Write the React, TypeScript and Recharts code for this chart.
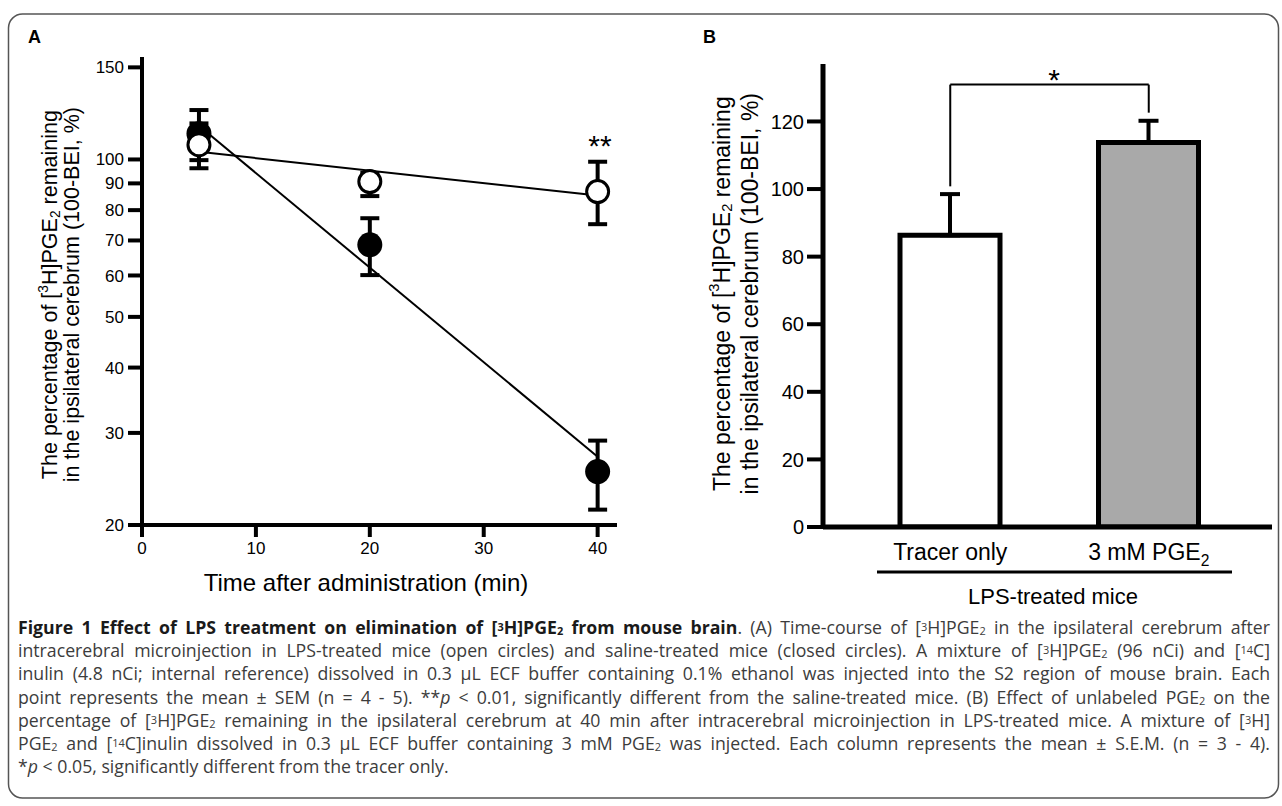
import React from 'react'
import {
  ComposedChart,
  Scatter,
  XAxis,
  YAxis,
  ErrorBar,
  BarChart,
  Bar,
  Cell,
  ReferenceLine,
} from 'recharts'

// panel A: time course (log y), error = [minus, plus]
const times = [5, 20, 40]
const salineMean = [112, 68.7, 25.3]
const salineErr = [
  [12.3, 12.3],
  [8.6, 8.5],
  [3.9, 3.7],
]
const lpsMean = [106.7, 90.7, 86.8]
const lpsErr = [
  [10.5, 10.5],
  [5.6, 3.5],
  [11.6, 12.2],
]

const fitTimes = [5, 40]
const salineFit = [116, 27]
const lpsFit = [103.4, 85.3]

const xTicksA = [0, 10, 20, 30, 40]
const yTicksA = [20, 30, 40, 50, 60, 70, 80, 90, 100, 150]

// panel B: columns
const groups = ['Tracer only', '3 mM PGE2']
const groupMean = [86.3, 113.8]
const groupSem = [12.2, 6.4]
const groupFill = ['#ffffff', '#a9a9a9']
const yTicksB = [0, 20, 40, 60, 80, 100, 120]
const bracketLow = [100.8, 122.6]
const bracketTop = 130.9

const FONT = '"Liberation Sans", Arial, Helvetica, sans-serif'

const salineData = times.map((t, i) => ({ t, v: salineMean[i], e: salineErr[i] }))
const lpsData = times.map((t, i) => ({ t, v: lpsMean[i], e: lpsErr[i] }))
const salineFitData = fitTimes.map((t, i) => ({ t, v: salineFit[i] }))
const lpsFitData = fitTimes.map((t, i) => ({ t, v: lpsFit[i] }))
const barData = groups.map((g, i) => ({ g, v: groupMean[i], e: [0, groupSem[i]] }))

const FilledDot = (p: any) => <circle cx={p.cx} cy={p.cy} r={12.5} fill="#000" />
const OpenDot = (p: any) => (
  <circle cx={p.cx} cy={p.cy} r={11} fill="#fff" stroke="#000" strokeWidth={3} />
)
const NoDot = () => <g />

function withSub(label: string, size: number) {
  // "PGE2" -> PGE with subscript 2
  const m = label.match(/^(.*PGE)(\d)$/)
  if (!m) return label
  return (
    <>
      {m[1]}
      <tspan fontSize={size * 0.68} dy={size * 0.25}>
        {m[2]}
      </tspan>
    </>
  )
}

const CatTick = ({ x, y, payload }: any) => (
  <text x={x} y={y} dy="0.71em" textAnchor="middle" fontSize={23} fill="#000" fontFamily={FONT}>
    {withSub(payload.value, 23)}
  </text>
)

function YTitle({ cx, cy, gap, size }: { cx: number; cy: number; gap: number; size: number }) {
  const s = size * 0.64
  return (
    <g fontFamily={FONT} fontSize={size} fill="#000">
      <text
        x={cx}
        y={cy}
        textAnchor="middle"
        dominantBaseline="central"
        transform={`rotate(-90 ${cx} ${cy})`}
      >
        The percentage of [
        <tspan fontSize={s} dy={-size * 0.36}>
          3
        </tspan>
        <tspan dy={size * 0.36}>H]PGE</tspan>
        <tspan fontSize={s} dy={size * 0.22}>
          2
        </tspan>
        <tspan dy={-size * 0.22}>{' remaining'}</tspan>
      </text>
      <text
        x={cx + gap}
        y={cy}
        textAnchor="middle"
        dominantBaseline="central"
        transform={`rotate(-90 ${cx + gap} ${cy})`}
      >
        in the ipsilateral cerebrum (100-BEI, %)
      </text>
    </g>
  )
}

const supStyle: React.CSSProperties = { fontSize: '0.62em', lineHeight: 0, verticalAlign: '0.32em' }
const subStyle: React.CSSProperties = { fontSize: '0.62em', lineHeight: 0, verticalAlign: '-0.12em' }
const Sup = ({ c }: { c: string }) => <span style={supStyle}>{c}</span>
const Sub = ({ c }: { c: string }) => <span style={subStyle}>{c}</span>

const lineStyle: React.CSSProperties = { textAlign: 'justify', textAlignLast: 'justify', whiteSpace: 'nowrap' }

export default function App() {
  return (
    <div
      style={{
        position: 'absolute',
        left: 0,
        top: 0,
        width: 1282,
        height: 806,
        background: '#fff',
        overflow: 'hidden',
      }}
    >
      {/* Panel A */}
      <div style={{ position: 'absolute', left: 0, top: 0 }}>
        <ComposedChart width={640} height={620} margin={{ top: 57, right: 23, left: 0, bottom: 65 }}>
          <XAxis
            dataKey="t"
            type="number"
            domain={[0, 41.7]}
            allowDataOverflow
            ticks={xTicksA}
            interval={0}
            stroke="#000"
            strokeWidth={4}
            axisLine={{ stroke: '#000', strokeWidth: 4 }}
            tickLine={{ stroke: '#000', strokeWidth: 4 }}
            tickSize={12}
            tickMargin={5}
            tick={{ fill: '#000', fontSize: 17, fontFamily: FONT }}
          />
          <YAxis
            dataKey="v"
            type="number"
            scale="log"
            domain={[20, 157]}
            allowDataOverflow
            ticks={yTicksA}
            interval={0}
            width={142}
            stroke="#000"
            strokeWidth={4}
            axisLine={{ stroke: '#000', strokeWidth: 4 }}
            tickLine={{ stroke: '#000', strokeWidth: 4 }}
            tickSize={14}
            tickMargin={4}
            tick={{ fill: '#000', fontSize: 17, fontFamily: FONT }}
          />
          <Scatter
            data={salineFitData}
            shape={NoDot}
            line={{ stroke: '#000', strokeWidth: 2 }}
            isAnimationActive={false}
          />
          <Scatter
            data={lpsFitData}
            shape={NoDot}
            line={{ stroke: '#000', strokeWidth: 2 }}
            isAnimationActive={false}
          />
          <Scatter data={salineData} shape={FilledDot} isAnimationActive={false}>
            <ErrorBar dataKey="e" direction="y" width={9.5} strokeWidth={4} stroke="#000" />
          </Scatter>
          <Scatter data={lpsData} shape={OpenDot} isAnimationActive={false}>
            <ErrorBar dataKey="e" direction="y" width={9.5} strokeWidth={4} stroke="#000" />
          </Scatter>
        </ComposedChart>
      </div>

      {/* Panel B */}
      <div style={{ position: 'absolute', left: 640, top: 0 }}>
        <BarChart width={642} height={620} data={barData} margin={{ top: 64, right: 10, left: 0, bottom: 63 }}>
          <XAxis
            dataKey="g"
            interval={0}
            padding={{ left: 28, right: 24 }}
            stroke="#000"
            strokeWidth={5}
            axisLine={{ stroke: '#000', strokeWidth: 5 }}
            tickLine={false}
            tickSize={12}
            tickMargin={5}
            tick={<CatTick />}
          />
          <YAxis
            type="number"
            domain={[0, 137]}
            allowDataOverflow
            ticks={yTicksB}
            interval={0}
            width={183}
            stroke="#000"
            strokeWidth={5}
            axisLine={{ stroke: '#000', strokeWidth: 5 }}
            tickLine={{ stroke: '#000', strokeWidth: 4 }}
            tickSize={16}
            tickMargin={3}
            tick={{ fill: '#000', fontSize: 20, fontFamily: FONT }}
          />
          <Bar dataKey="v" barSize={100} stroke="#000" strokeWidth={5} isAnimationActive={false}>
            {barData.map((d, i) => (
              <Cell key={d.g} fill={groupFill[i]} />
            ))}
            <ErrorBar dataKey="e" direction="y" width={10} strokeWidth={4} stroke="#000" />
          </Bar>
          <ReferenceLine
            segment={[
              { x: groups[0], y: bracketLow[0] },
              { x: groups[0], y: bracketTop },
            ]}
            stroke="#000"
            strokeWidth={2}
          />
          <ReferenceLine
            segment={[
              { x: groups[0], y: bracketTop },
              { x: groups[1], y: bracketTop },
            ]}
            stroke="#000"
            strokeWidth={2}
          />
          <ReferenceLine
            segment={[
              { x: groups[1], y: bracketLow[1] },
              { x: groups[1], y: bracketTop },
            ]}
            stroke="#000"
            strokeWidth={2}
          />
        </BarChart>
      </div>

      {/* texts and frame */}
      <svg
        width={1282}
        height={806}
        style={{ position: 'absolute', left: 0, top: 0, pointerEvents: 'none' }}
      >
        <rect x={8.5} y={14} width={1270} height={784} rx={14} fill="none" stroke="#555" strokeWidth={1.5} />
        <text x={28} y={43} fontFamily={FONT} fontWeight="bold" fontSize={18} fill="#000">
          A
        </text>
        <text x={703} y={43} fontFamily={FONT} fontWeight="bold" fontSize={18} fill="#000">
          B
        </text>
        <YTitle cx={50.5} cy={294.6} gap={21.5} size={21.5} />
        <YTitle cx={722} cy={293.7} gap={28} size={23} />
        <text x={366} y={591} textAnchor="middle" fontFamily={FONT} fontSize={24} fill="#000">
          Time after administration (min)
        </text>
        <text x={600} y={156} textAnchor="middle" fontFamily={FONT} fontSize={30} fill="#000">
          **
        </text>
        <text x={1054} y={90} textAnchor="middle" fontFamily={FONT} fontSize={30} fill="#000">
          *
        </text>
        <line x1={877} x2={1232} y1={572} y2={572} stroke="#000" strokeWidth={3} />
        <text x={1053} y={604} textAnchor="middle" fontFamily={FONT} fontSize={22} fill="#000">
          LPS-treated mice
        </text>
      </svg>

      {/* caption */}
      <div
        style={{
          position: 'absolute',
          left: 18,
          top: 616,
          width: 1252,
          fontFamily: '"Open Sans", sans-serif',
          fontSize: 17.7,
          lineHeight: '23.2px',
          color: '#3c3c3c',
        }}
      >
        <div style={lineStyle}>
          <b style={{ color: '#1a1a1a' }}>
            Figure 1 Effect of LPS treatment on elimination of [<Sup c="3" />H]PGE<Sub c="2" /> from mouse brain
          </b>
          . (A) Time-course of [<Sup c="3" />H]PGE<Sub c="2" /> in the ipsilateral cerebrum after
        </div>
        <div style={lineStyle}>
          intracerebral microinjection in LPS-treated mice (open circles) and saline-treated mice (closed circles). A
          mixture of [<Sup c="3" />H]PGE<Sub c="2" /> (96 nCi) and [<Sup c="14" />C]
        </div>
        <div style={lineStyle}>
          inulin (4.8 nCi; internal reference) dissolved in 0.3 µL ECF buffer containing 0.1% ethanol was injected into
          the S2 region of mouse brain. Each
        </div>
        <div style={lineStyle}>
          point represents the mean ± SEM (n = 4 - 5). **<i>p</i> &lt; 0.01, significantly different from the
          saline-treated mice. (B) Effect of unlabeled PGE<Sub c="2" /> on the
        </div>
        <div style={lineStyle}>
          percentage of [<Sup c="3" />H]PGE<Sub c="2" /> remaining in the ipsilateral cerebrum at 40 min after
          intracerebral microinjection in LPS-treated mice. A mixture of [<Sup c="3" />H]
        </div>
        <div style={lineStyle}>
          PGE<Sub c="2" /> and [<Sup c="14" />C]inulin dissolved in 0.3 µL ECF buffer containing 3 mM PGE
          <Sub c="2" /> was injected. Each column represents the mean ± S.E.M. (n = 3 - 4).
        </div>
        <div style={{ whiteSpace: 'nowrap' }}>
          *<i>p</i> &lt; 0.05, significantly different from the tracer only.
        </div>
      </div>
    </div>
  )
}
